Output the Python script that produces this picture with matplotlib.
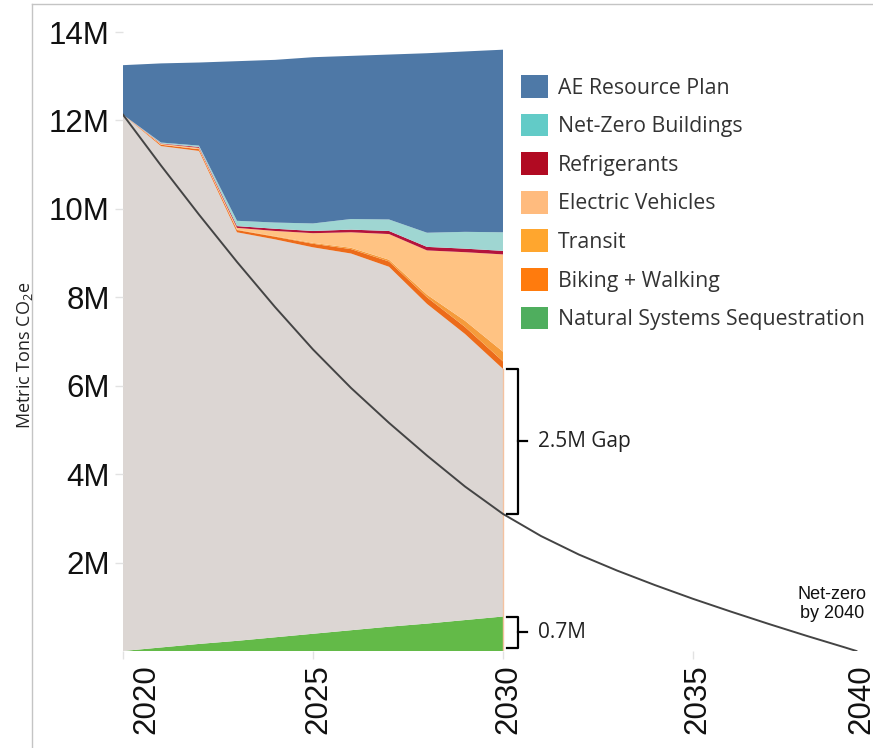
import matplotlib
matplotlib.use("Agg")
import matplotlib.pyplot as plt
import matplotlib.transforms as mtransforms
from matplotlib.patches import Patch
from matplotlib.lines import Line2D

# emissions in million metric tons CO2e
years = [2020, 2021, 2022, 2023, 2024, 2025, 2026, 2027, 2028, 2029, 2030]
sequestration = [0, 0.08, 0.16, 0.23, 0.31, 0.39, 0.47, 0.55, 0.62, 0.70, 0.78]
remaining = [12.13, 11.34, 11.15, 9.24, 9.00, 8.74, 8.52, 8.14, 7.23, 6.47, 5.60]
biking = [0, 0.03, 0.04, 0.05, 0.06, 0.08, 0.10, 0.12, 0.15, 0.16, 0.17]
transit = [0, 0, 0, 0.01, 0.01, 0.02, 0.03, 0.04, 0.06, 0.14, 0.22]
electric_vehicles = [0, 0.02, 0.03, 0.04, 0.12, 0.22, 0.35, 0.58, 1.00, 1.55, 2.20]
refrigerants = [0, 0.01, 0.02, 0.04, 0.05, 0.05, 0.06, 0.07, 0.08, 0.08, 0.08]
nz_buildings = [0, 0.02, 0.03, 0.12, 0.14, 0.17, 0.24, 0.26, 0.32, 0.38, 0.42]
ae_plan = [1.12, 1.79, 1.88, 3.61, 3.68, 3.76, 3.69, 3.73, 4.06, 4.08, 4.13]

# net-zero pathway
nz_years = [2020, 2021, 2022, 2023, 2024, 2025, 2026, 2027, 2028, 2029, 2030,
            2031, 2032, 2033, 2034, 2035, 2036, 2037, 2038, 2039, 2039.3]
nz_path = [12.13, 10.98, 9.87, 8.80, 7.78, 6.82, 5.95, 5.16, 4.42, 3.72, 3.10,
           2.60, 2.18, 1.82, 1.49, 1.18, 0.89, 0.61, 0.34, 0.08, 0.0]

legend_labels = ["AE Resource Plan", "Net-Zero Buildings", "Refrigerants",
                 "Electric Vehicles", "Transit", "Biking + Walking",
                 "Natural Systems Sequestration"]
legend_colors = ["#4E79A7", "#62CBC7", "#B10A22", "#FFBB7E", "#FFA62E", "#FF7B0D", "#4FAE5E"]

area_colors = ["#63BA48", "#DCD6D3", "#EC6B1A", "#F59B3B", "#FFC383", "#B4133C", "#9FD6D2", "#4E78A6"]

fig = plt.figure(figsize=(8.73, 7.48), dpi=100)
W, H = 873, 748
ax = fig.add_axes([123 / W, 1 - 651 / H, 760 / W, 619 / H])

ax.stackplot(years, sequestration, remaining, biking, transit, electric_vehicles,
             refrigerants, nz_buildings, ae_plan, colors=area_colors, linewidth=0)

gap_top = sequestration[-1] + remaining[-1]
gap_bot = nz_path[nz_years.index(2030)]
seq_top = sequestration[-1]

# faint edge on the right side of the stacked areas
ax.plot([years[-1], years[-1]], [0, gap_top], color="#F4C2A0", lw=1)
ax.plot(nz_years, nz_path, color="#444444", linewidth=1.4)

ax.set_xlim(2020, 2040)
ax.set_ylim(0, 14)
ax.set_yticks([2, 4, 6, 8, 10, 12, 14])
ax.set_yticklabels([f"{v}M" for v in [2, 4, 6, 8, 10, 12, 14]])
ax.set_xticks([2020, 2025, 2030, 2035, 2040])
for s in ax.spines.values():
    s.set_visible(False)
ax.tick_params(axis="both", length=5.8, color="#e2e2e2", width=1, pad=3.6,
               labelsize=22.5)
for lab in ax.get_yticklabels() + ax.get_xticklabels():
    lab.set_fontfamily("Liberation Sans")
    lab.set_color("#111111")
# nudge the rotated year labels like the original (end labels pulled inward)
for lab, dx in zip(ax.get_xticklabels(), [23, 5, 5, 4, -22]):
    lab.set_rotation(90)
    lab.set_transform(lab.get_transform() + mtransforms.ScaledTranslation(dx / 100, 0, fig.dpi_scale_trans))

plt.rcParams["mathtext.fontset"] = "custom"
plt.rcParams["mathtext.rm"] = "Open Sans"
fig.text(25 / W, 1 - 355 / H, r"Metric Tons CO$_\mathrm{2}$e", rotation=90,
         ha="center", va="center", fontsize=13, family="Open Sans", color="#222222")


def bracket(y0, y1, label):
    xa, xb, xc = 2030.1, 2030.39, 2030.62
    ym = (y0 + y1) / 2
    ax.plot([xa, xb, xb, xa], [y1, y1, y0, y0], color="black", lw=1.6,
            solid_joinstyle="round", clip_on=False)
    ax.plot([xb, xc], [ym, ym], color="black", lw=1.6, clip_on=False)
    ax.text(2030.92, ym, label, ha="left", va="center", fontsize=15,
            family="Open Sans", color="#222222")


bracket(gap_bot, gap_top, "2.5M Gap")
bracket(0.07, seq_top, "0.7M")

ax.text(2038.66, 1.06, "Net-zero\nby 2040", ha="center", va="center",
        fontsize=13, family="Liberation Sans", color="#111111", linespacing=1.2)

handles = [Patch(facecolor=c, edgecolor="none") for c in legend_colors]
fs = 15.3
fig.legend(handles, legend_labels, loc="upper left", bbox_to_anchor=(521 / W, 1 - 75 / H),
           frameon=False, prop={"family": "Open Sans", "size": fs},
           handlelength=27 / (fs * 100 / 72), handleheight=27 / (fs * 100 / 72),
           handletextpad=0.45, labelspacing=0.71, borderpad=0, borderaxespad=0,
           labelcolor="#333333")

# outer frame
fig.add_artist(Line2D([32 / W, 32 / W], [0, 1 - 4 / H], transform=fig.transFigure,
                      color="#c4c4c4", lw=1))
fig.add_artist(Line2D([32 / W, 1], [1 - 4 / H, 1 - 4 / H], transform=fig.transFigure,
                      color="#c4c4c4", lw=1))

fig.savefig("out.png", dpi=100)
